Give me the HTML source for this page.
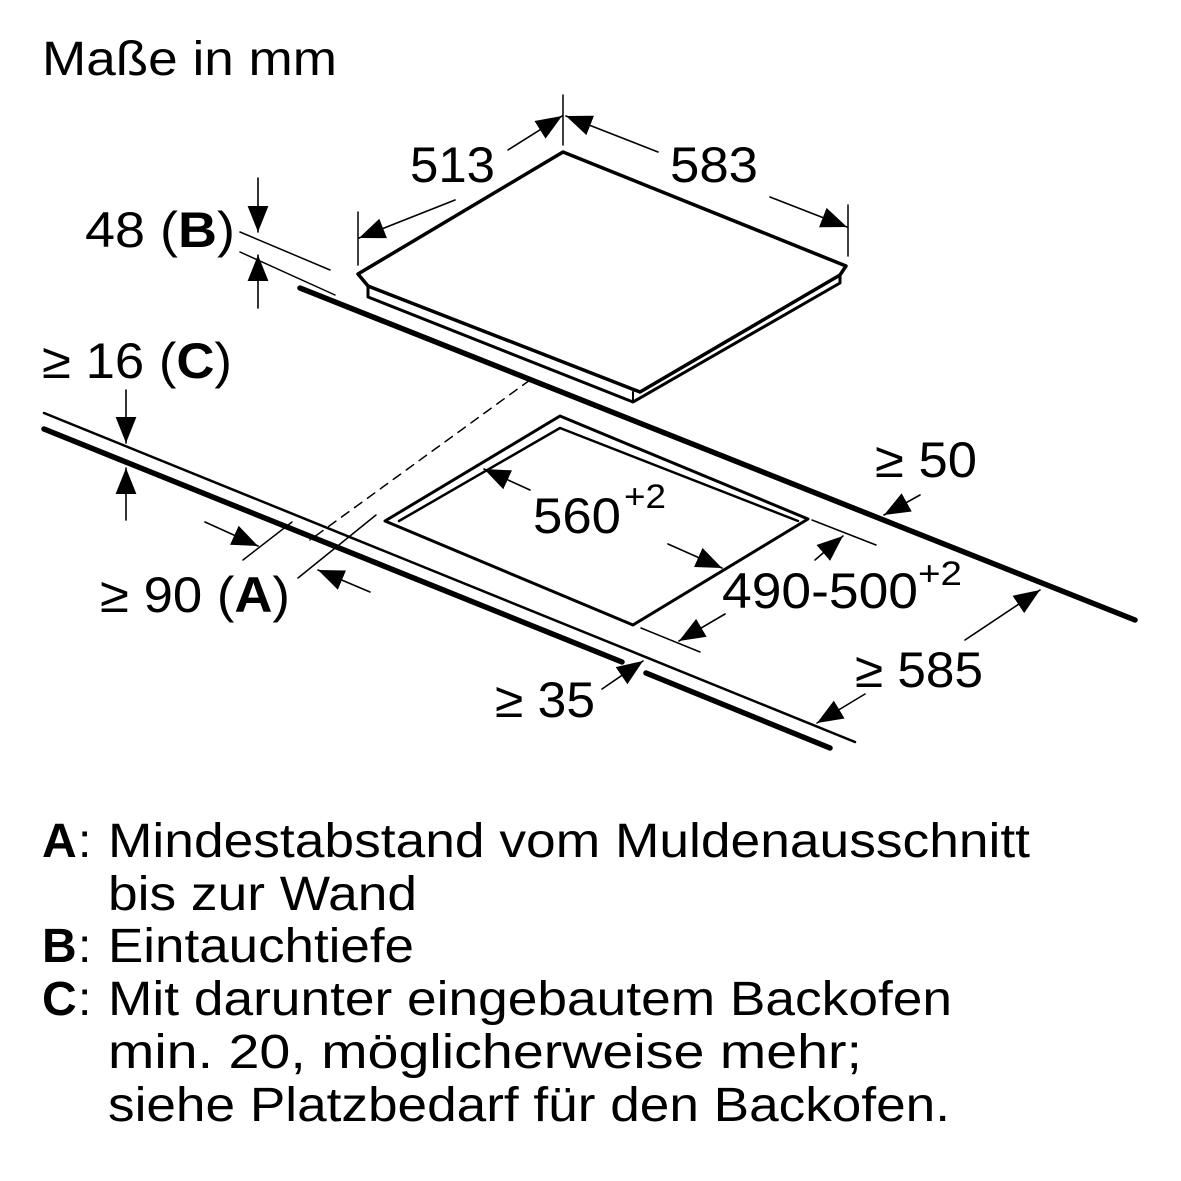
<!DOCTYPE html>
<html><head><meta charset="utf-8"><style>
html,body{margin:0;padding:0;background:#fff}
svg{display:block}
text{font-family:"Liberation Sans",sans-serif;fill:#000}
</style></head><body>
<svg width="1181" height="1181" viewBox="0 0 1181 1181" xmlns="http://www.w3.org/2000/svg">
<defs>
<marker id="ah" viewBox="0 0 10 10" refX="10" refY="5" markerWidth="26" markerHeight="26" markerUnits="userSpaceOnUse" orient="auto">
<path d="M0,1 L10,5 L0,9 z" fill="#000"/>
</marker>
</defs>
<text x="42" y="75" font-size="48" textLength="295" lengthAdjust="spacingAndGlyphs">Maße in mm</text>

<g stroke="#000" fill="none" stroke-linecap="round" stroke-linejoin="round">
<path d="M563,152 L846,266 L840,275 L640,392 L368,286 L358,274 Z" stroke-width="3.5"/>
<path d="M368,286 L368,297 L633,402 L840,283 L840,275" stroke-width="3"/>
<path d="M633,402 L633,392" stroke-width="2"/>
<path d="M300,288 L1135,620" stroke-width="5.5"/>
<path d="M44,413 L855,742" stroke-width="2.5"/>
<path d="M44,429 L622,662" stroke-width="5.5"/>
<path d="M646,673 L830,748" stroke-width="5.5"/>
<path d="M560,416 L808,519 L633,625 L385,521 Z" stroke-width="3"/>
<path d="M560,428 L399,521 M560,428 L798,521" stroke-width="2.5"/>
<path d="M530,380 L310,540" stroke-width="1.5" stroke-dasharray="9,7"/>
<g stroke-width="1.5">
<path d="M563,95 L563,145"/>
<path d="M358,212 L358,265"/>
<path d="M848,205 L848,256"/>
<path d="M240,232 L330,270"/>
<path d="M240,252 L335,295"/>
<path d="M243,560 L292,522"/>
<path d="M298,578 L376,515"/>
<path d="M812,520 L876,545"/>
<path d="M641,628 L700,652"/>
</g>
<g stroke-width="1.6" marker-end="url(#ah)">
<path d="M508,150 L562,116"/>
<path d="M455,200 L359,238"/>
<path d="M658,152 L566,116"/>
<path d="M770,197 L847,227"/>
<path d="M258,178 L258,232"/>
<path d="M258,308 L258,255"/>
<path d="M126,390 L126,443"/>
<path d="M126,520 L126,468"/>
<path d="M205,522 L258,546"/>
<path d="M370,592 L318,570"/>
<path d="M530,490 L484,469"/>
<path d="M668,544 L722,568"/>
<path d="M815,560 L843,536"/>
<path d="M725,614 L679,641"/>
<path d="M920,495 L884,515"/>
<path d="M965,640 L1040,590"/>
<path d="M865,694 L817,723"/>
<path d="M602,689 L643,661"/>
</g>
</g>

<g font-size="50">
<text x="410" y="182" textLength="85" lengthAdjust="spacingAndGlyphs">513</text>
<text x="670" y="182" textLength="88" lengthAdjust="spacingAndGlyphs">583</text>
<text x="85" y="247" textLength="150" lengthAdjust="spacingAndGlyphs">48 (<tspan font-weight="bold">B</tspan>)</text>
<text x="42" y="378" textLength="190" lengthAdjust="spacingAndGlyphs">≥ 16 (<tspan font-weight="bold">C</tspan>)</text>
<text x="100" y="612" textLength="190" lengthAdjust="spacingAndGlyphs">≥ 90 (<tspan font-weight="bold">A</tspan>)</text>
<text x="533" y="533" textLength="88" lengthAdjust="spacingAndGlyphs">560</text>
<text x="624" y="508" font-size="34" textLength="42" lengthAdjust="spacingAndGlyphs">+2</text>
<text x="722" y="608" textLength="196" lengthAdjust="spacingAndGlyphs">490-500</text>
<text x="918" y="585" font-size="34" textLength="44" lengthAdjust="spacingAndGlyphs">+2</text>
<text x="875" y="477" textLength="102" lengthAdjust="spacingAndGlyphs">≥ 50</text>
<text x="855" y="687" textLength="128" lengthAdjust="spacingAndGlyphs">≥ 585</text>
<text x="495" y="717" textLength="100" lengthAdjust="spacingAndGlyphs">≥ 35</text>
</g>

<g font-size="48">
<text x="42" y="857" font-weight="bold">A</text><text x="78" y="857">:</text>
<text x="108" y="857" textLength="922" lengthAdjust="spacingAndGlyphs">Mindestabstand vom Muldenausschnitt</text>
<text x="108" y="910" textLength="309" lengthAdjust="spacingAndGlyphs">bis zur Wand</text>
<text x="42" y="962" font-weight="bold">B</text><text x="78" y="962">:</text>
<text x="108" y="962" textLength="306" lengthAdjust="spacingAndGlyphs">Eintauchtiefe</text>
<text x="42" y="1015" font-weight="bold">C</text><text x="78" y="1015">:</text>
<text x="108" y="1015" textLength="844" lengthAdjust="spacingAndGlyphs">Mit darunter eingebautem Backofen</text>
<text x="108" y="1068" textLength="754" lengthAdjust="spacingAndGlyphs">min. 20, möglicherweise mehr;</text>
<text x="108" y="1121" textLength="842" lengthAdjust="spacingAndGlyphs">siehe Platzbedarf für den Backofen.</text>
</g>
</svg>
</body></html>
